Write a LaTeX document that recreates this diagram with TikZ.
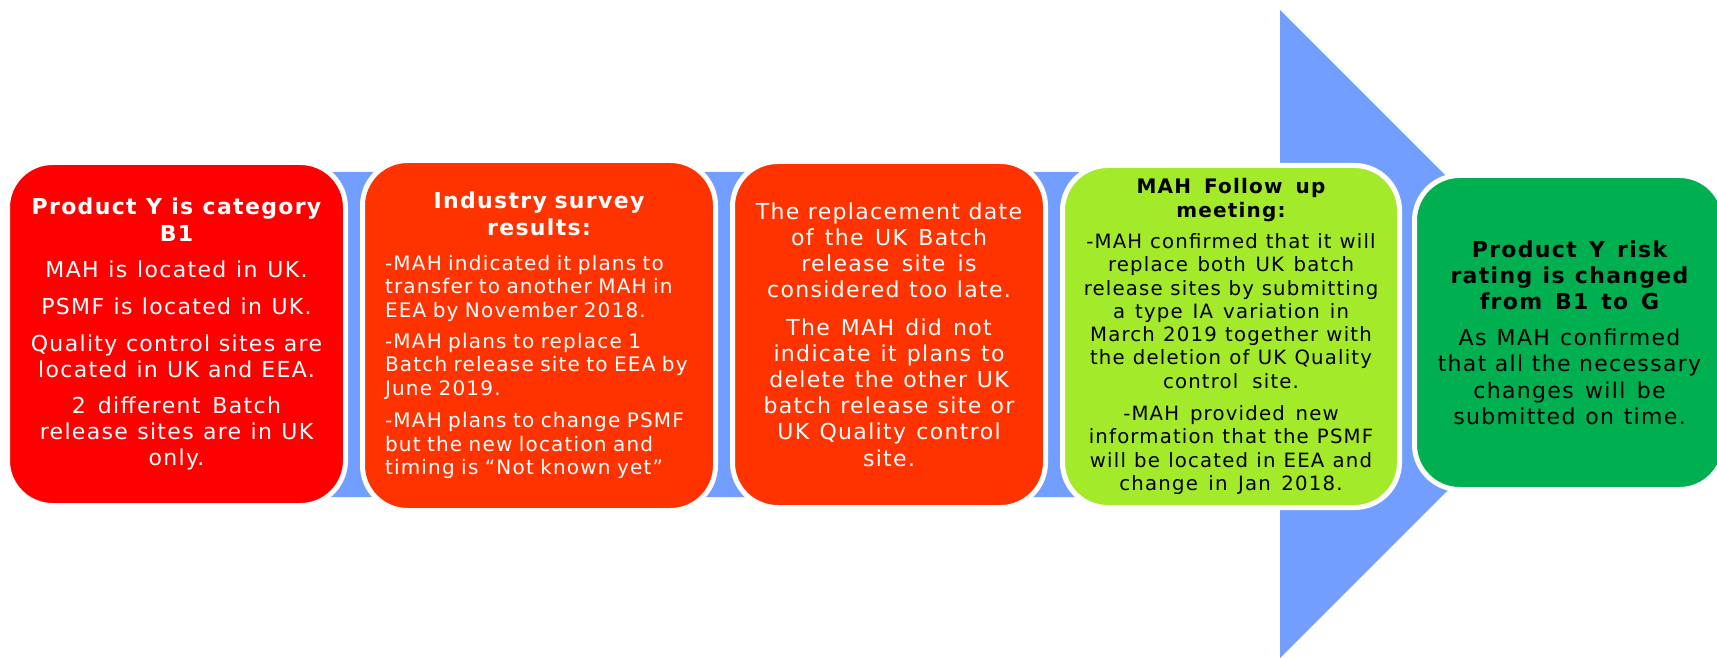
\documentclass[tikz,border=0pt]{standalone}
\usepackage{fontspec}
\setmainfont{DejaVu Sans}[LetterSpace=6,WordSpace=0.85]
\definecolor{arrowblue}{RGB}{114,159,255}
\definecolor{boxred}{RGB}{255,0,0}
\definecolor{boxorange}{RGB}{255,51,0}
\definecolor{boxlime}{RGB}{163,234,42}
\definecolor{boxgreen}{RGB}{0,176,80}
\begin{document}
\begin{tikzpicture}[x=1pt,y=-1pt,
  box/.style={draw=white, line width=5pt, rounded corners=45pt, inner sep=0pt},
  bigtext/.style={font=\fontsize{22}{26}\selectfont},
  midtext/.style={font=\fontsize{20}{23.5}\selectfont}]
\useasboundingbox (0,0) rectangle (1717,658);
\clip (0,0) rectangle (1717,658);
% big process arrow in the background
\fill[arrowblue] (325,172) -- (1280,172) -- (1280,10) -- (1604,334) -- (1280,658) -- (1280,497) -- (325,497) -- cycle;
% box 1
\node[box, fill=boxred, text=white, minimum width=338pt, minimum height=343pt,
  text width=330pt, align=center, bigtext] (b1) at (176.5,334)
  {\spaceskip=0pt\xspaceskip=0pt
   {\bfseries\fontsize{22}{27}\selectfont Product Y is category\\B1\par}\vspace{10pt}
   MAH is located in UK.\par\vspace{11pt}
   PSMF is located in UK.\par\vspace{11pt}
   Quality control sites are\\located in UK and EEA.\par\vspace{10pt}
   2 different Batch\\release sites are in UK\\only.\par};
% box 2
\node[box, fill=boxorange, text=white, minimum width=353pt, minimum height=350pt,
  text width=308pt, align=left, midtext] (b2) at (539,335.5)
  {\spaceskip=0pt\xspaceskip=0pt
   {\centering\bfseries\fontsize{22}{27}\selectfont Industry survey\\results:\par}\vspace{11pt}
   {\fontsize{20}{23.5}\selectfont
   -MAH indicated it plans to\\transfer to another MAH in\\EEA by November 2018.\par\vspace{7.5pt}
   -MAH plans to replace 1\\Batch release site to EEA by\\June 2019.\par\vspace{9pt}
   -MAH plans to change PSMF\\but the new location and\\timing is “Not known yet”\par}};
% box 3
\node[box, fill=boxorange, text=white, minimum width=313pt, minimum height=346pt,
  text width=305pt, align=center, font=\fontsize{22}{26.2}\selectfont] (b3) at (889,334.5)
  {\spaceskip=0pt\xspaceskip=0pt
   The replacement date\\of the UK Batch\\release site is\\considered too late.\par\vspace{11pt}
   The MAH did not\\indicate it plans to\\delete the other UK\\batch release site or\\UK Quality control\\site.\par};
% box 4
\node[box, fill=boxlime, text=black, minimum width=337pt, minimum height=342pt,
  text width=330pt, align=center, midtext] (b4) at (1231,336.5)
  {\spaceskip=0pt\xspaceskip=0pt
   {\bfseries\fontsize{20}{24}\selectfont MAH Follow up\\meeting:\par}\vspace{7.5pt}
   {\fontsize{19.7}{23.3}\selectfont
   -MAH confirmed that it will\\replace both UK batch\\release sites by submitting\\a type IA variation in\\March 2019 together with\\the deletion of UK Quality\\control site.\par\vspace{9pt}
   -MAH provided new\\information that the PSMF\\will be located in EEA and\\change in Jan 2018.\par}};
% box 5
\node[box, fill=boxgreen, text=black, minimum width=310pt, minimum height=314pt,
  text width=300pt, align=center, bigtext] (b5) at (1569.5,332.5)
  {\spaceskip=0pt\xspaceskip=0pt
   {\bfseries\fontsize{22}{26}\selectfont Product Y risk\\rating is changed\\from B1 to G\par}\vspace{10pt}
   {\fontsize{22}{26.3}\selectfont As MAH confirmed\\that all the necessary\\changes will be\\submitted on time.\par}};
\end{tikzpicture}
\end{document}
